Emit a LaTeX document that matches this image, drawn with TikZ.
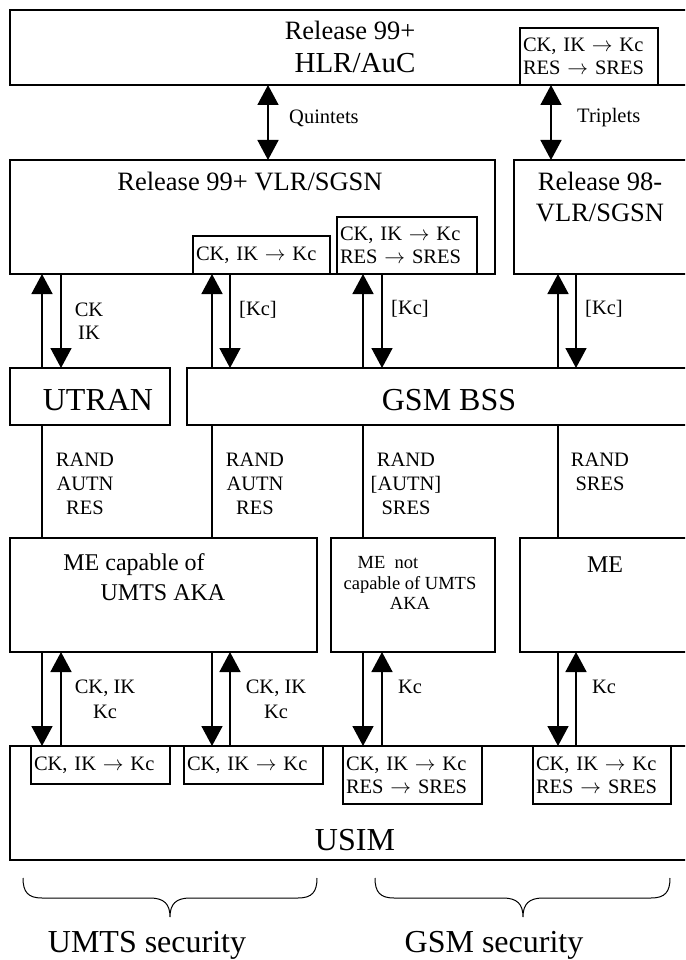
\documentclass[tikz,border=0pt]{standalone}
\usepackage{fontspec}
\setmainfont{Liberation Serif}
\usetikzlibrary{arrows.meta,positioning}
\tikzset{
  akabox/.style={draw, line width=1.4pt, anchor=north west, outer sep=0pt, inner sep=0pt},
  akakey/.style={draw, line width=1.4pt, anchor=north west, outer sep=0pt, inner xsep=3pt, inner ysep=0pt, align=left, font=\fontsize{20.5}{23}\selectfont},
  akaarrow/.style={-{Triangle[width=21pt,length=20pt]}, line width=1.6pt},
  akaboth/.style={{Triangle[width=21pt,length=20pt]}-{Triangle[width=21pt,length=20pt]}, line width=1.6pt},
  akalink/.style={line width=1.6pt},
  akabrace/.style={line width=1pt},
  akatext/.style={inner sep=0pt, align=center},
  akabig/.style={akatext, font=\fontsize{32}{34}\selectfont},
  akamid/.style={akatext, font=\fontsize{26.5}{31}\selectfont},
  akame/.style={akatext, font=\fontsize{24}{28}\selectfont},
  akalabel/.style={akatext, font=\fontsize{20.5}{24}\selectfont},
  akatiny/.style={akatext, font=\fontsize{18.5}{20}\selectfont}
}

\begin{document}
\begin{tikzpicture}[x=1pt, y=-1pt]
\useasboundingbox (0,0) rectangle (685,960);
\clip (0,0) rectangle (685,960);

% boxes
\node[akabox, minimum width=680pt, minimum height=75pt] (hlr) at (10,10) {};
\node[akakey, minimum height=57pt, text width=132pt] (hlrkey) at (520,28) {CK, IK $\rightarrow$ Kc\\RES $\rightarrow$ SRES};
\node[akabox, minimum width=485pt, minimum height=114pt] (vlr) at (10,160) {};
\node[akakey, minimum height=38pt, text width=131pt] (vlrkeyA) at (193,236) {CK, IK $\rightarrow$ Kc};
\node[akakey, minimum height=57pt, text width=134pt] (vlrkeyB) at (337,217) {CK, IK $\rightarrow$ Kc\\RES $\rightarrow$ SRES};
\node[akabox, minimum width=176pt, minimum height=114pt] (vlr98) at (514,160) {};
\node[akabox, minimum width=160pt, minimum height=57pt] (utran) at (10,368) {};
\node[akabox, minimum width=503pt, minimum height=57pt] (bss) at (187,368) {};
\node[akabox, minimum width=307pt, minimum height=114pt] (mecap) at (10,538) {};
\node[akabox, minimum width=164pt, minimum height=114pt] (menot) at (331,538) {};
\node[akabox, minimum width=170pt, minimum height=114pt] (me) at (520,538) {};
\node[akabox, minimum width=680pt, minimum height=114pt] (usim) at (10,746) {};
\node[akakey, minimum height=38pt, text width=133pt] (usimkeyA) at (31,746) {CK, IK $\rightarrow$ Kc};
\node[akakey, minimum height=38pt, text width=133pt] (usimkeyB) at (184,746) {CK, IK $\rightarrow$ Kc};
\node[akakey, minimum height=58pt, text width=133pt] (usimkeyC) at (343,746) {CK, IK $\rightarrow$ Kc\\RES $\rightarrow$ SRES};
\node[akakey, minimum height=58pt, text width=132pt] (usimkeyD) at (533,746) {CK, IK $\rightarrow$ Kc\\RES $\rightarrow$ SRES};

% box texts
\node[akamid] (hlrtop) at (350,30) {Release 99+};
\node[akabig, font=\fontsize{29}{32}\selectfont] (hlrname) at (355,63) {HLR/AuC};
\node[akamid] (vlrname) at (250,182) {Release 99+ VLR/SGSN};
\node[akamid] (vlr98name) at (600,197.5) {Release 98-\\VLR/SGSN};
\node[akabig] (utranname) at (98,400) {UTRAN};
\node[akabig] (bssname) at (449,400) {GSM BSS};
\node[akame] (mecapA) at (134,565) {ME capable of};
\node[akame] (mecapB) at (163,593) {UMTS AKA};
\node[akatiny] (menotA) at (388,563) {ME\ \ not};
\node[akatiny] (menotB) at (410,593) {capable of UMTS\\AKA};
\node[akame] (mename) at (605,565) {ME};
\node[akabig] (usimname) at (355,840) {USIM};

% columns of the connectors
\coordinate (pq) at (268,0);
\coordinate (pt) at (551,0);
\coordinate (p1) at (42,0);
\coordinate (p2) at (61,0);
\coordinate (p3) at (212,0);
\coordinate (p4) at (230,0);
\coordinate (p5) at (363,0);
\coordinate (p6) at (382,0);
\coordinate (p7) at (558,0);
\coordinate (p8) at (576,0);

% HLR to VLR
\draw[akaboth] (pq |- hlr.south) -- (pq |- vlr.north);
\draw[akaboth] (pt |- hlrkey.south) -- (pt |- vlr98.north);
\node[akalabel, anchor=west] (quint) at (289,118) {Quintets};
\node[akalabel, anchor=west] (trip) at (577,118) {Triplets};

% VLR to access network
\draw[akaarrow] (p1 |- utran.north) -- (p1 |- vlr.south);
\draw[akaarrow] (p2 |- vlr.south) -- (p2 |- utran.north);
\draw[akaarrow] (p3 |- bss.north) -- (p3 |- vlrkeyA.south);
\draw[akaarrow] (p4 |- vlrkeyA.south) -- (p4 |- bss.north);
\draw[akaarrow] (p5 |- bss.north) -- (p5 |- vlrkeyB.south);
\draw[akaarrow] (p6 |- vlrkeyB.south) -- (p6 |- bss.north);
\draw[akaarrow] (p7 |- bss.north) -- (p7 |- vlr98.south);
\draw[akaarrow] (p8 |- vlr98.south) -- (p8 |- bss.north);
\node[akalabel, font=\fontsize{20.5}{23}\selectfont] (ckik) at (89,321.5) {CK\\IK};
\node[akalabel] (kcA) at (258,310) {[Kc]};
\node[akalabel] (kcB) at (410,309) {[Kc]};
\node[akalabel] (kcC) at (604,309) {[Kc]};

% access network to ME
\draw[akalink] (p1 |- utran.south) -- (p1 |- mecap.north);
\draw[akalink] (p3 |- bss.south) -- (p3 |- mecap.north);
\draw[akalink] (p5 |- bss.south) -- (p5 |- menot.north);
\draw[akalink] (p7 |- bss.south) -- (p7 |- me.north);
\node[akalabel] (randA) at (85,484) {RAND\\AUTN\\RES};
\node[akalabel] (randB) at (255,484) {RAND\\AUTN\\RES};
\node[akalabel] (randC) at (406,484) {RAND\\{}[AUTN]\\SRES};
\node[akalabel] (randD) at (600,472) {RAND\\SRES};

% ME to USIM
\draw[akaarrow] (p1 |- mecap.south) -- (p1 |- usimkeyA.north);
\draw[akaarrow] (p2 |- usimkeyA.north) -- (p2 |- mecap.south);
\draw[akaarrow] (p3 |- mecap.south) -- (p3 |- usimkeyB.north);
\draw[akaarrow] (p4 |- usimkeyB.north) -- (p4 |- mecap.south);
\draw[akaarrow] (p5 |- menot.south) -- (p5 |- usimkeyC.north);
\draw[akaarrow] (p6 |- usimkeyC.north) -- (p6 |- menot.south);
\draw[akaarrow] (p7 |- me.south) -- (p7 |- usimkeyD.north);
\draw[akaarrow] (p8 |- usimkeyD.north) -- (p8 |- me.south);
\node[akalabel, font=\fontsize{20.5}{25}\selectfont] (ckkcA) at (105,699.5) {CK, IK\\Kc};
\node[akalabel, font=\fontsize{20.5}{25}\selectfont] (ckkcB) at (276,699.5) {CK, IK\\Kc};
\node[akalabel] (kcD) at (410,687) {Kc};
\node[akalabel] (kcE) at (604,687) {Kc};

% braces
\draw[akabrace] (23,878) .. controls (23,892) and (28,898) .. (42,898) -- (150,898)
  .. controls (164,898) and (170,904) .. (170,917) .. controls (170,904) and (176,898) .. (190,898)
  -- (298,898) .. controls (312,898) and (317,892) .. (317,878);
\draw[akabrace] (375,878) .. controls (375,892) and (380,898) .. (394,898) -- (503,898)
  .. controls (517,898) and (523,904) .. (523,917) .. controls (523,904) and (529,898) .. (543,898)
  -- (651,898) .. controls (665,898) and (670,892) .. (670,878);
\node[akabig] (umtssec) at (147,945) {UMTS security};
\node[akabig] (gsmsec) at (494,945) {GSM security};
\end{tikzpicture}
\end{document}
